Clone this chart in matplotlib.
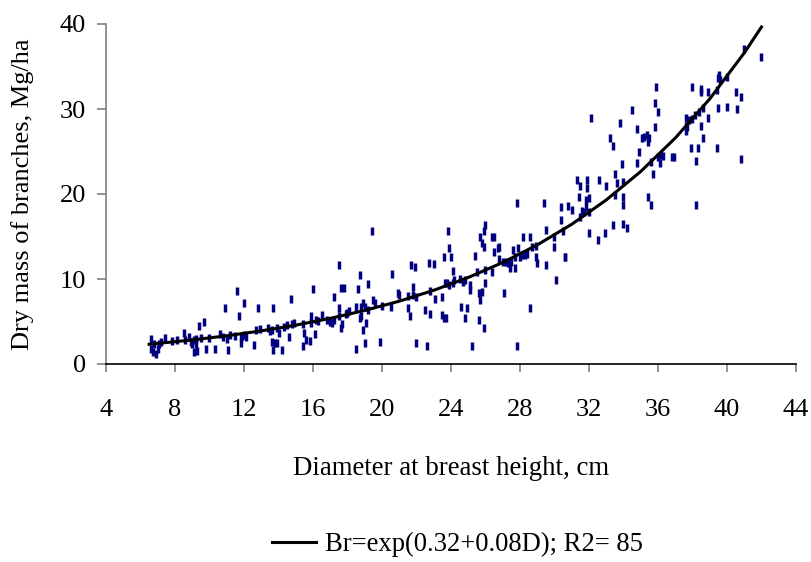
import matplotlib.pyplot as plt

plt.rcParams['font.family'] = ['Liberation Serif', 'DejaVu Serif']

# observed points: diameter (cm) and dry branch mass (Mg/ha)
dbh = [
    6.6, 6.6, 6.7, 6.9, 6.8, 7.0, 7.1, 7.2, 7.4, 7.8, 8.1, 8.5, 8.6, 8.8, 8.9, 9.0,
    9.1, 9.2, 9.2, 9.1, 9.3, 9.4, 9.7, 9.5, 9.8, 10.0, 10.3, 10.6, 10.8, 10.9, 11.0,
    11.1, 11.2, 11.5, 11.6, 11.7, 11.8, 11.8, 11.9, 12.0, 12.0, 12.1, 12.6, 12.7,
    12.8, 12.9, 13.4, 13.5,
    13.6, 13.6, 13.7, 13.8, 13.9, 13.9, 14.05, 14.2, 14.3, 14.5, 14.6, 14.7, 14.8,
    14.9, 13.7, 15.4, 15.4, 15.5, 15.6, 15.8, 15.9, 15.9, 16.0, 16.1, 16.2, 16.3,
    16.5, 16.8, 17.0, 17.1, 17.2, 17.2, 17.5, 17.5, 17.5, 17.6, 17.6, 17.7, 17.8,
    17.9, 18.0, 18.1, 18.5, 18.5, 18.6, 18.7, 18.7, 18.8, 18.8, 18.9, 18.9, 19.0,
    19.0, 19.1, 19.2, 19.2, 19.4, 19.5, 19.6, 19.9, 20.0, 20.5, 20.6, 20.9, 21.0,
    21.5, 21.5, 21.6, 21.7, 21.8, 21.8, 21.9, 22.0, 22.0, 22.5, 22.6, 22.7, 22.8,
    22.8, 23.0, 23.1,
    23.5, 23.5, 23.65, 23.75, 23.6, 23.6, 23.7, 23.8, 23.9, 24.0, 24.1, 24.1, 23.9,
    24.2, 24.5, 24.6, 24.7, 24.8, 24.8, 24.9, 25.1, 25.1, 25.2, 25.4, 25.5, 25.6,
    25.6, 25.7, 25.7, 25.8, 25.8, 25.9, 25.9, 25.9, 26.0, 26.0, 26.0, 26.4, 26.4,
    26.5, 26.5, 26.7, 26.8, 26.8, 27.0, 27.1, 27.2, 27.3, 27.4, 27.5, 27.6, 27.7,
    27.7, 27.8, 27.8, 27.9, 28.0, 28.1, 28.2, 28.3, 28.4, 28.6, 28.6, 28.7, 28.9,
    28.9, 29.0, 29.4, 29.5, 29.5, 30.0, 30.0, 30.1, 30.4, 30.4, 30.6, 30.6, 30.5,
    30.8, 31.0, 31.3, 31.4, 31.5, 31.5, 31.6, 31.7, 31.8, 31.9, 31.9, 31.8, 32.0,
    32.0, 32.0, 32.1, 32.6, 32.5,
    32.9, 33.0, 33.2, 33.4, 33.4, 33.5, 33.5, 33.6, 33.8, 33.9, 34.0, 34.0, 34.0,
    34.0, 34.2, 34.5, 34.8, 34.8, 34.9, 35.1, 35.2, 35.35, 35.4, 35.4, 35.5, 35.6,
    35.6, 35.7, 35.8, 35.8, 35.9, 36.0, 36.0, 36.1, 36.2, 36.3, 36.8, 36.9, 37.6,
    37.6, 37.6, 37.7, 37.8, 37.9, 38.0, 38.0, 38.15, 38.2, 38.2, 38.3, 38.4, 38.5,
    38.5, 38.5, 38.6, 38.6, 38.9, 38.9, 39.4, 39.4, 39.5, 39.5, 39.56, 39.6, 40.0,
    40.0, 40.5, 40.6, 40.8, 40.8, 41.0, 42.0,
]
mass = [
    2.9, 1.8, 1.4, 1.2, 2.4, 1.8, 2.35, 2.6, 3.1, 2.7, 2.8, 3.6, 2.8, 3.2, 2.6, 2.4,
    2.8, 2.4, 2.9, 1.45, 1.5, 4.5, 4.9, 3.1, 1.8, 3.1, 1.8, 3.5, 3.2, 6.6, 2.9,
    1.6, 3.4, 3.3, 8.6, 5.6, 3.2, 2.5, 3.3, 7.2, 3.4, 3.2, 2.2, 4.0,
    6.6, 4.1, 4.2, 3.9,
    4.0, 2.6, 1.65, 2.5, 2.5, 4.2, 3.6, 1.6, 4.4, 4.6, 3.2, 7.65, 4.7,
    4.8, 6.6, 2.15, 4.7, 3.7, 2.8, 2.75, 5.6, 4.8, 8.8, 3.5, 5.2, 5.1,
    5.8, 5.2, 5.0, 4.8, 7.85, 5.2, 6.55, 11.6, 5.6, 9.0, 4.2, 4.7, 8.9,
    5.9, 6.0, 6.2, 1.75, 6.75, 8.8, 10.5, 5.4, 6.7, 5.6, 4.0, 7.2, 6.75,
    2.5, 4.8, 9.4, 6.4, 15.65, 7.5, 7.2, 2.55, 6.8, 6.75, 10.55, 8.4, 8.1,
    6.55, 8.0, 5.6, 11.6, 9.1, 8.1, 11.45, 7.9, 2.5, 6.35, 2.15, 11.85, 5.85,
    8.6, 11.8, 7.6,
    5.75, 7.9, 9.5, 9.55, 12.6, 5.4, 5.4, 15.65, 13.6, 12.6, 11.0, 9.55, 9.3,
    9.9, 10.0, 6.75, 9.7, 9.9, 5.4, 6.55, 9.3, 8.7, 2.1, 12.75, 10.85, 5.2,
    8.4, 7.5, 14.9, 8.5, 14.2, 4.2, 15.6, 13.8, 16.4, 9.5, 11.05, 10.8, 14.9,
    14.9, 13.2, 13.6, 13.8, 12.4, 12.05, 8.4, 12.05, 11.85, 11.25, 12.05, 13.4, 11.25,
    12.6, 19.0, 2.15, 13.7, 12.6, 12.8, 14.9, 12.8, 13.0, 6.6, 14.9, 13.8, 13.9,
    12.6, 11.85, 19.0, 11.7, 15.75, 15.0, 13.8, 9.9, 18.5, 16.9, 12.6, 12.6, 15.7,
    18.6, 18.1, 21.65, 19.6, 17.3, 20.9, 18.0, 17.9, 18.5, 21.6, 20.7, 19.3, 19.5,
    15.4, 17.9, 28.9, 21.65, 14.6,
    15.4, 21.0, 26.6, 25.65, 16.35, 22.35, 19.9, 21.3, 28.3, 23.5, 21.45, 19.7, 18.7,
    16.5, 15.96, 29.9, 27.7, 23.6, 25.0, 26.55, 26.7, 26.95, 26.1, 19.6, 26.55, 18.7,
    23.8, 22.4, 27.9, 30.7, 32.6, 29.7, 24.4, 23.6, 24.6, 24.5, 24.3, 24.4, 28.98,
    28.0, 27.45, 27.9, 28.7, 25.45, 32.6, 28.8, 29.3, 18.7, 23.9, 25.45, 29.7, 28.0,
    32.4, 31.96, 26.55, 30.1, 29.0, 32.0, 25.45, 32.2, 30.1, 33.6, 34.0, 33.4, 30.2,
    33.8, 32.0, 29.96, 31.45, 24.1, 37.1, 36.1,
]

# fitted curve
fit_d = [6.5, 9, 11, 13, 15, 17, 19, 21, 23, 25, 27, 29, 31, 33, 35, 37, 39, 41, 42]
fit_b = [2.32, 2.83, 3.32, 3.90, 4.57, 5.37, 6.30, 7.39, 8.67, 10.18, 11.94,
         14.01, 16.44, 19.30, 22.65, 26.58, 31.19, 36.60, 39.65]
fit_label = 'Br=exp(0.32+0.08D); R2= 85'

fig = plt.figure(figsize=(8.12, 5.62), dpi=100)
ax = fig.add_axes([106 / 812, 1 - 364 / 562, 690 / 812, 340 / 562])

ax.plot(dbh, mass, ls='none', marker='|', ms=5.5, mew=2.5, color='#000080', zorder=2)
ax.plot(fit_d, fit_b, color='black', lw=2.2, label=fit_label, zorder=3)

ax.set_xlim(4, 44)
ax.set_ylim(0, 40)
ax.set_xticks(range(4, 45, 4))
ax.set_yticks(range(0, 41, 10))

for s in ['top', 'right']:
    ax.spines[s].set_visible(False)
ax.spines['left'].set_color('#808080')
ax.spines['left'].set_linewidth(1.2)
ax.spines['bottom'].set_color('black')
ax.spines['bottom'].set_linewidth(1.2)

ax.tick_params(axis='x', direction='out', length=6, width=1.2, color='#808080',
               labelsize=19, pad=19)
ax.tick_params(axis='y', direction='out', length=6.5, width=1.2, color='#808080',
               labelsize=19, pad=8)

ax.set_xlabel('Diameter at breast height, cm', fontsize=19.3)
ax.set_ylabel('Dry mass of branches, Mg/ha', fontsize=19)
ax.xaxis.set_label_coords(0.5, -0.27)
ax.yaxis.set_label_coords(-0.105, 0.5)

fig.legend(loc='center', bbox_to_anchor=(0.5635, 0.031), frameon=False,
           fontsize=19.2, handlelength=1.63, handletextpad=0.33)

fig.savefig('out.png', dpi=100)
